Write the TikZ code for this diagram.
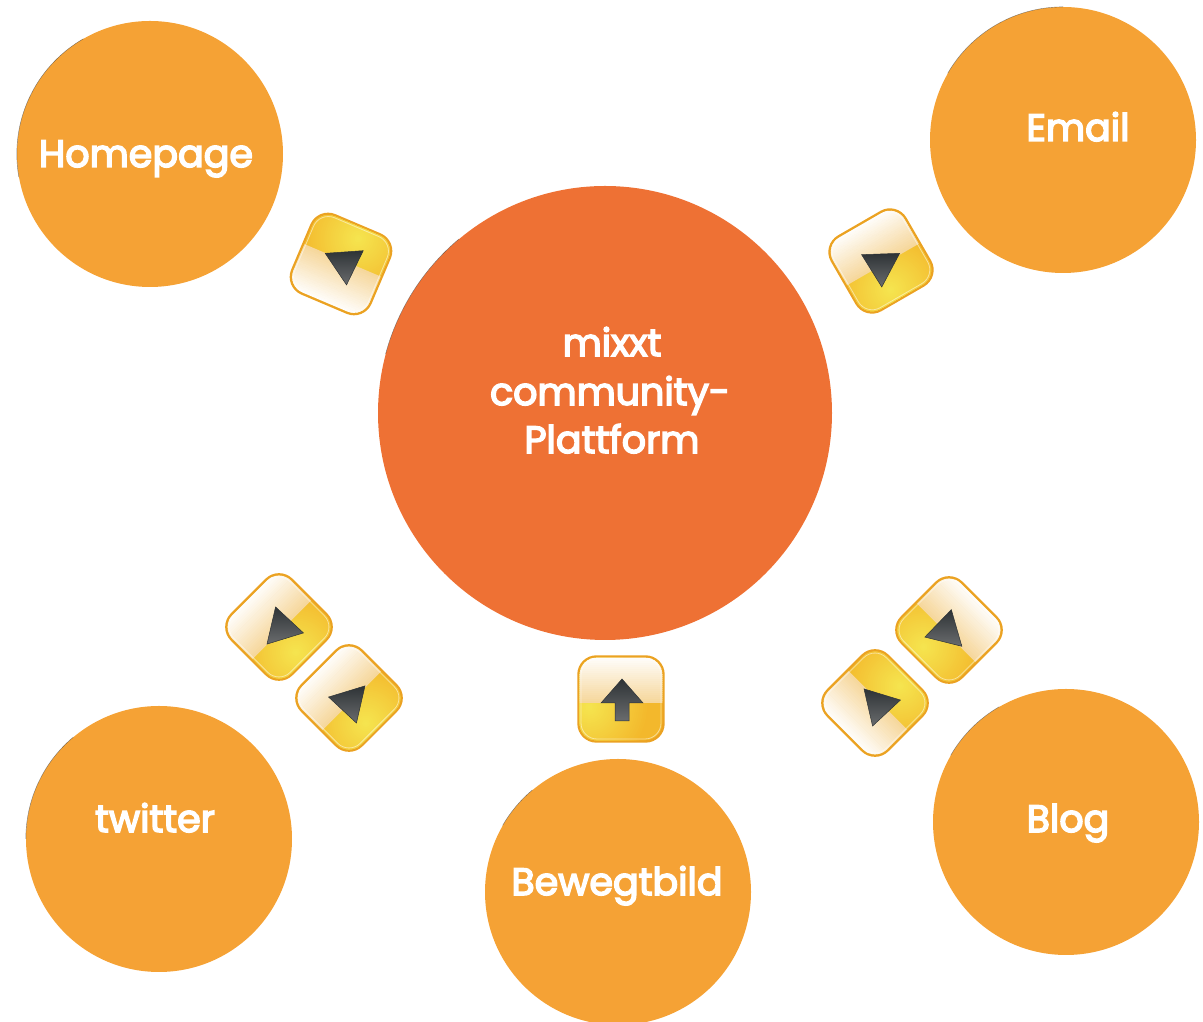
\documentclass[tikz,border=0pt]{standalone}
\usepackage{fontspec}
\newfontfamily\capfont[FakeBold=4]{Poppins}
\definecolor{hubfill}{HTML}{EE7134}
\definecolor{spokefill}{HTML}{F5A235}
\definecolor{btnedge}{HTML}{EBA222}
\definecolor{btnlow}{HTML}{F3B82C}
\definecolor{btnglow}{HTML}{F5E650}
\definecolor{btnpeach}{HTML}{F6D79C}
\definecolor{arrowdark}{HTML}{2E3336}
\definecolor{arrowlight}{HTML}{6A6C6E}
\tikzset{
  hub/.style={circle, fill=hubfill, minimum size=454pt, inner sep=0},
  spoke/.style={circle, fill=spokefill, minimum size=266pt, inner sep=0},
  caption/.style={text=white, font=\fontsize{38}{38}\selectfont\capfont, inner sep=0, anchor=base},
  rim/.style={black, line width=0.4pt, opacity=0.5},
  btnbase/.style={rectangle, rounded corners=18pt, minimum size=85pt, inner sep=0, draw=btnedge, line width=2.4pt, fill=btnlow},
  arrowface/.style={draw=arrowdark, line width=0.5pt, top color=arrowdark, bottom color=arrowlight},
}
\newcommand{\glassbody}[4]{
  \node[btnbase, rotate=#3] (#1) at (#2) {};
  \begin{scope}[shift={(#2)}, rotate=#3]
    \begin{scope}
      \clip[rounded corners=17pt] (-41.3,-41.3) rectangle (41.3,41.3);
      \foreach \r in {60,58,...,2} {
        \pgfmathsetmacro{\mixval}{100*\r/60}
        \fill[btnlow!\mixval!btnglow] (#4) circle (\r);
      }
      \foreach \y in {-4,-2,...,42} {
        \pgfmathsetmacro{\mixval}{100*(\y+4)/46}
        \fill[white!\mixval!btnpeach] (-43,\y) rectangle (43,\y+2.5);
      }
    \end{scope}
    \draw[white, line width=0.8pt, rounded corners=16pt, opacity=0.5] (-40,-40) rectangle (40,40);
  \end{scope}
}
\newcommand{\glassarrow}[3]{
  \draw[arrowface, shift={(#1)}] (#2:#3) -- (#2+120:#3) -- (#2+240:#3) -- cycle;
}
\begin{document}
\begin{tikzpicture}[x=1pt, y=1pt]
  \useasboundingbox (0,0) rectangle (1203,1022);
  \node[spoke] (homepage) at (150,868) {};
  \node[spoke] (email) at (1063,882) {};
  \node[hub] (mixxt) at (605,609) {};
  \node[spoke] (twitter) at (159,183) {};
  \node[spoke] (bewegtbild) at (618,130) {};
  \node[spoke] (blog) at (1066,200) {};
  \draw[rim] (homepage.190) arc[start angle=190, end angle=120, radius=133];
  \draw[rim] (email.150) arc[start angle=150, end angle=90, radius=133];
  \draw[rim] (mixxt.165) arc[start angle=165, end angle=130, radius=227];
  \draw[rim] (twitter.180) arc[start angle=180, end angle=130, radius=133];
  \draw[rim] (bewegtbild.150) arc[start angle=150, end angle=130, radius=133];
  \draw[rim] (blog.150) arc[start angle=150, end angle=120, radius=133];
  \node[caption] (homepagetext) at (146,855) {Homepage};
  \node[caption] (emailtext) at (1078,881) {Email};
  \node[caption] (mixxttext) at (612,666) {mixxt};
  \node[caption] (communitytext) at (610,617) {community-};
  \node[caption] (plattformtext) at (612,569) {Plattform};
  \node[caption] (twittertext) at (155,190) {twitter};
  \node[caption] (bewegtbildtext) at (617,127) {Bewegtbild};
  \node[caption] (blogtext) at (1068,190) {Blog};
  \glassbody{btnhomepage}{341,758}{157}{-6,-30}
  \glassarrow{345,759}{-86}{22}
  \glassbody{btnemail}{881,761}{30}{-6,-30}
  \glassarrow{881,757}{-88}{22}
  \glassbody{btntwitterin}{279,395}{45}{-6,-30}
  \glassarrow{282,394}{-13}{22}
  \glassbody{btntwitterout}{349,324}{45}{-6,-30}
  \glassarrow{350,320}{167}{22}
  \glassbody{btnblogin}{949,392}{-45}{-6,-30}
  \glassarrow{946,391}{76}{22}
  \glassbody{btnblogout}{875,319}{135}{-6,-30}
  \glassarrow{879,317}{13}{22}
  \glassbody{btnbewegtbild}{621,323}{0}{-32,-8}
  \draw[arrowface] (622,343) -- (643,319) -- (629,319) -- (629,301) -- (615,301) -- (615,319) -- (601,319) -- cycle;
\end{tikzpicture}
\end{document}
